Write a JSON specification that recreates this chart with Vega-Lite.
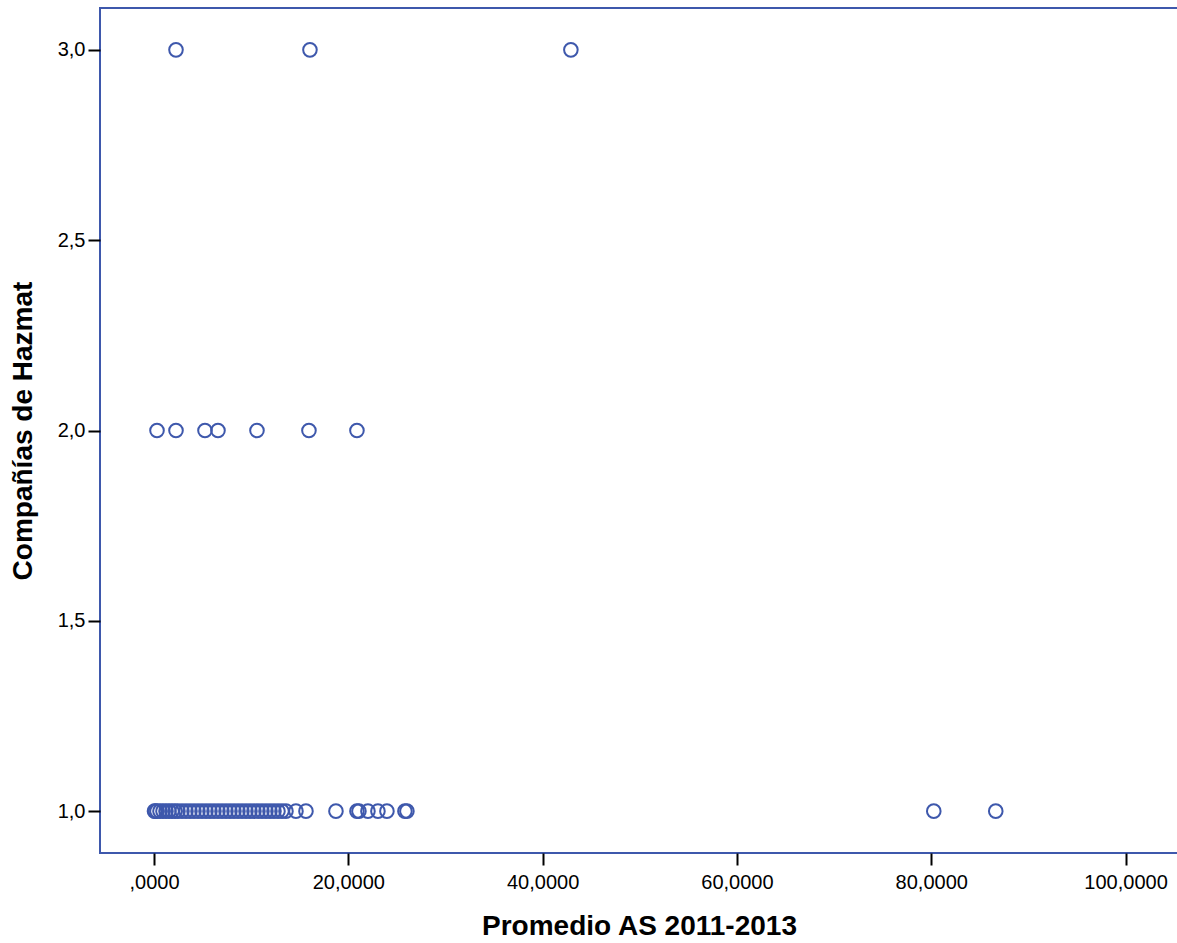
{
  "$schema": "https://vega.github.io/schema/vega-lite/v6.json",
  "autosize": "none",
  "width": 1078,
  "height": 845,
  "padding": {"left": 100, "top": 8, "right": 0, "bottom": 90},
  "background": "white",
  "config": {
    "view": {"stroke": "#3E58AC", "strokeWidth": 2},
    "font": "Liberation Sans"
  },
  "data": {
    "values": [
      {"x": 0.05, "y": 1}, {"x": 0.15, "y": 1}, {"x": 0.309, "y": 1}, {"x": 0.617, "y": 1}, {"x": 0.926, "y": 1},
      {"x": 1.235, "y": 1}, {"x": 1.544, "y": 1}, {"x": 1.852, "y": 1}, {"x": 2.161, "y": 1}, {"x": 2.47, "y": 1},
      {"x": 2.881, "y": 1}, {"x": 3.293, "y": 1}, {"x": 3.704, "y": 1}, {"x": 4.116, "y": 1}, {"x": 4.528, "y": 1},
      {"x": 4.939, "y": 1}, {"x": 5.351, "y": 1}, {"x": 5.762, "y": 1}, {"x": 6.174, "y": 1}, {"x": 6.586, "y": 1},
      {"x": 6.997, "y": 1}, {"x": 7.409, "y": 1}, {"x": 7.82, "y": 1}, {"x": 8.232, "y": 1}, {"x": 8.644, "y": 1},
      {"x": 9.055, "y": 1}, {"x": 9.467, "y": 1}, {"x": 9.878, "y": 1}, {"x": 10.29, "y": 1}, {"x": 10.702, "y": 1},
      {"x": 11.113, "y": 1}, {"x": 11.525, "y": 1}, {"x": 11.936, "y": 1}, {"x": 12.348, "y": 1}, {"x": 12.76, "y": 1},
      {"x": 13.171, "y": 1}, {"x": 13.583, "y": 1}, {"x": 14.612, "y": 1}, {"x": 15.641, "y": 1}, {"x": 18.728, "y": 1},
      {"x": 20.889, "y": 1}, {"x": 21.095, "y": 1}, {"x": 22.021, "y": 1}, {"x": 23.05, "y": 1}, {"x": 23.975, "y": 1},
      {"x": 25.827, "y": 1}, {"x": 26.033, "y": 1}, {"x": 80.262, "y": 1}, {"x": 86.642, "y": 1},
      {"x": 0.309, "y": 2}, {"x": 2.264, "y": 2}, {"x": 5.248, "y": 2}, {"x": 6.586, "y": 2}, {"x": 10.599, "y": 2},
      {"x": 15.949, "y": 2}, {"x": 20.889, "y": 2},
      {"x": 2.264, "y": 3}, {"x": 16.052, "y": 3}, {"x": 42.909, "y": 3}
    ]
  },
  "mark": {"type": "point", "shape": "circle", "filled": false, "stroke": "#3E58AC", "strokeWidth": 2, "size": 185, "opacity": 1},
  "encoding": {
    "x": {
      "field": "x", "type": "quantitative",
      "scale": {"domain": [-5.558, 105.4], "nice": false, "zero": false},
      "axis": {
        "title": "Promedio AS 2011-2013",
        "values": [0, 20, 40, 60, 80, 100],
        "labelExpr": "datum.value == 0 ? ',0000' : replace(format(datum.value, '.4f'), '.', ',')",
        "grid": false, "domain": false,
        "tickColor": "black", "tickSize": 12, "tickWidth": 2,
        "labelColor": "black", "labelFontSize": 20, "labelPadding": 7, "labelFont": "Liberation Sans",
        "titleColor": "black", "titleFontSize": 28, "titleFontWeight": "bold", "titlePadding": 20, "titleFont": "Liberation Sans"
      }
    },
    "y": {
      "field": "y", "type": "quantitative",
      "scale": {"domain": [0.89, 3.11], "nice": false, "zero": false},
      "axis": {
        "title": "Compañías de Hazmat",
        "values": [1, 1.5, 2, 2.5, 3],
        "labelExpr": "replace(format(datum.value, '.1f'), '.', ',')",
        "grid": false, "domain": false,
        "tickColor": "black", "tickSize": 12, "tickWidth": 2,
        "labelColor": "black", "labelFontSize": 20, "labelPadding": 3, "labelFont": "Liberation Sans",
        "titleColor": "black", "titleFontSize": 28, "titleFontWeight": "bold", "titlePadding": 20, "titleFont": "Liberation Sans"
      }
    }
  }
}
